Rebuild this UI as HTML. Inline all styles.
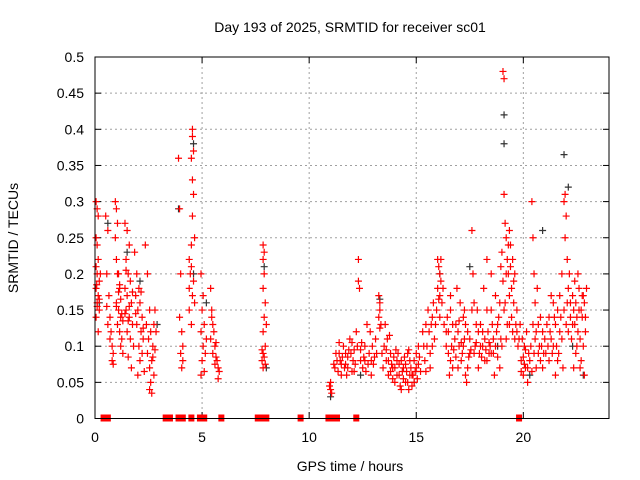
<!DOCTYPE html>
<html><head><meta charset="utf-8"><style>
body{margin:0;background:#fff;}
svg{display:block;font-family:"Liberation Sans",sans-serif;}
</style></head><body>
<svg id="chart" width="640" height="480">
<text x="350" y="32" text-anchor="middle" font-size="14">Day 193 of 2025, SRMTID for receiver sc01</text>
<text x="350" y="471" text-anchor="middle" font-size="14">GPS time / hours</text>
<text transform="translate(18,238) rotate(-90)" text-anchor="middle" font-size="14">SRMTID / TECUs</text>
<g id="grid"></g><g id="axes"></g><g id="marks"></g>
<rect x="95" y="57" width="514" height="361.5" fill="none" stroke="#000" stroke-width="1"/>
</svg>
<script>
const xTicks=[0,5,10,15,20];
const yTicks=[0,0.05,0.1,0.15,0.2,0.25,0.3,0.35,0.4,0.45,0.5];
const yTickLabels=["0","0.05","0.1","0.15","0.2","0.25","0.3","0.35","0.4","0.45","0.5"];
const zeroHours=[0.4,0.6,3.3,3.5,3.9,4.1,4.5,4.9,5.1,5.9,7.6,7.7,7.8,8.0,9.6,10.9,11.0,11.1,11.3,12.2,19.8];
const redPoints=[
[0.05,0.3],[0.1,0.29],[0.15,0.28],[0.05,0.25],[0.1,0.24],[0.15,0.22],[0.05,0.21],[0.1,0.2],[0.2,0.19],[0.05,0.18],[0.15,0.17],[0.1,0.16],[0.2,0.15],[0.05,0.14],[0.15,0.12],[0.25,0.2],[0.08,0.185],[0.2,0.165],[0.1,0.155],
[0.5,0.28],[0.6,0.26],[0.55,0.2],[0.65,0.17],[0.7,0.14],[0.75,0.12],[0.8,0.1],[0.85,0.09],[0.8,0.08],[0.85,0.075],[0.6,0.13],[0.7,0.11],[0.55,0.155],
[0.95,0.3],[1.0,0.29],[1.05,0.27],[0.95,0.25],[1.0,0.22],[1.1,0.2],[1.15,0.18],[1.0,0.16],[1.1,0.15],[1.2,0.14],[1.05,0.13],[1.15,0.12],[1.25,0.11],[1.2,0.1],[1.3,0.09],[1.0,0.155],[1.2,0.165],[1.1,0.175],[1.25,0.145],[1.3,0.135],[1.15,0.185],[1.05,0.2],
[1.4,0.27],[1.5,0.26],[1.6,0.24],[1.45,0.22],[1.55,0.2],[1.65,0.19],[1.4,0.18],[1.5,0.17],[1.7,0.16],[1.45,0.15],[1.6,0.14],[1.75,0.13],[1.5,0.12],[1.65,0.11],[1.8,0.1],[1.55,0.085],[1.7,0.07],[1.4,0.145],[1.55,0.135],[1.75,0.175],[1.6,0.155],[1.45,0.205],
[1.85,0.23],[1.95,0.2],[2.05,0.18],[1.9,0.17],[2.1,0.16],[2.0,0.15],[2.2,0.14],[1.95,0.13],[2.15,0.12],[2.25,0.11],[2.05,0.1],[2.2,0.09],[2.1,0.08],[2.3,0.065],[2.0,0.06],[2.25,0.125],[1.9,0.145],[2.15,0.175],
[2.35,0.24],[2.45,0.2],[2.55,0.15],[2.4,0.13],[2.6,0.12],[2.5,0.11],[2.7,0.1],[2.45,0.09],[2.65,0.08],[2.55,0.07],[2.75,0.06],[2.6,0.05],[2.55,0.04],[2.65,0.035],[2.7,0.085],[2.8,0.095],[2.75,0.13],[2.85,0.12],[2.8,0.15],
[3.9,0.36],[3.95,0.29],[4.0,0.2],[3.95,0.14],[4.05,0.12],[4.1,0.1],[4.0,0.09],[4.1,0.08],[4.05,0.07],
[4.55,0.4],[4.55,0.39],[4.6,0.37],[4.5,0.36],[4.55,0.33],[4.6,0.31],[4.55,0.28],[4.65,0.25],[4.5,0.24],[4.4,0.22],[4.5,0.21],[4.45,0.2],[4.6,0.19],[4.4,0.18],[4.55,0.17],[4.65,0.16],[4.4,0.15],[4.5,0.13],
[4.95,0.2],[5.05,0.17],[5.0,0.15],[5.1,0.13],[4.95,0.12],[5.05,0.1],[5.15,0.09],[5.0,0.08],[5.1,0.065],[4.95,0.06],[5.2,0.11],
[5.4,0.18],[5.45,0.15],[5.5,0.13],[5.55,0.12],[5.4,0.11],[5.6,0.1],[5.5,0.09],[5.65,0.085],[5.7,0.08],[5.6,0.075],[5.75,0.07],[5.8,0.065],[5.75,0.055],[5.45,0.14],[5.65,0.105],
[7.85,0.24],[7.9,0.23],[7.85,0.22],[7.9,0.2],[7.85,0.18],[7.95,0.16],[7.9,0.14],[8.0,0.13],[7.85,0.12],[7.95,0.1],[7.8,0.095],[7.85,0.09],[7.9,0.085],[7.8,0.08],[7.95,0.075],[7.85,0.07],
[10.95,0.045],[11.0,0.04],[11.05,0.035],[11.0,0.05],
[11.2,0.07],[11.3,0.08],[11.4,0.09],[11.5,0.06],[11.6,0.1],[11.7,0.075],[11.8,0.085],[11.9,0.11],[12.0,0.065],[12.1,0.095],[12.2,0.12],[12.3,0.22],[12.3,0.19],[12.35,0.18],[12.4,0.08],[12.5,0.07],[12.6,0.1],[12.7,0.13],[12.8,0.09],[12.9,0.06],[13.0,0.075],[13.1,0.11],[11.35,0.065],[11.55,0.085],[11.75,0.06],[11.95,0.09],[12.15,0.075],[12.45,0.105],[12.65,0.065],[12.85,0.12],[13.05,0.085],
[13.25,0.17],[13.3,0.16],[13.3,0.15],[13.25,0.14],[13.35,0.13],[13.3,0.125],
[13.5,0.1],[13.6,0.08],[13.7,0.06],[13.8,0.09],[13.9,0.07],[14.0,0.05],[14.1,0.08],[14.2,0.06],[14.3,0.04],[14.4,0.07],[14.5,0.05],[14.6,0.09],[14.7,0.06],[14.8,0.045],[14.9,0.08],[15.0,0.07],[15.1,0.1],[13.65,0.11],[13.85,0.075],[14.05,0.095],[14.25,0.045],[14.45,0.085],[14.65,0.04],[14.85,0.06],[15.05,0.055],[15.15,0.085],[13.55,0.13],[13.75,0.115],
[15.3,0.12],[15.4,0.08],[15.5,0.1],[15.55,0.15],[15.65,0.09],[15.7,0.13],[15.8,0.16],[15.85,0.11],[15.45,0.065],[15.75,0.14],
[16.0,0.22],[16.05,0.21],[16.1,0.2],[16.15,0.19],[16.1,0.17],[16.2,0.16],[16.0,0.18],
[16.4,0.12],[16.5,0.09],[16.6,0.15],[16.7,0.07],[16.8,0.11],[16.9,0.18],[17.0,0.1],[17.1,0.08],[17.2,0.14],[17.3,0.06],[17.4,0.12],[17.5,0.09],[17.6,0.26],[17.65,0.2],[17.7,0.16],[17.8,0.13],[17.9,0.07],[16.45,0.14],[16.65,0.1],[16.85,0.13],[17.05,0.16],[17.25,0.11],[17.45,0.085],[17.75,0.1],[17.85,0.15],[16.55,0.06],[17.35,0.05],
[18.0,0.1],[18.1,0.12],[18.2,0.08],[18.3,0.15],[18.4,0.09],[18.5,0.2],[18.6,0.11],[18.7,0.17],[18.8,0.13],[18.9,0.07],[18.15,0.18],[18.45,0.1],[18.65,0.06],[18.85,0.14],
[19.05,0.48],[19.1,0.47],[19.1,0.31],[19.15,0.27],[19.2,0.25],[19.25,0.22],[19.3,0.2],[19.35,0.17],[19.4,0.24],[19.45,0.14],[19.5,0.12],[19.55,0.19],[19.6,0.11],[19.7,0.15],[19.75,0.1],[19.15,0.16],[19.35,0.13],
[19.9,0.08],[20.0,0.06],[20.05,0.1],[20.1,0.07],[20.15,0.12],[20.2,0.05],[20.25,0.09],[19.95,0.11],
[20.4,0.3],[20.45,0.25],[20.5,0.2],[20.55,0.16],[20.6,0.12],[20.7,0.09],[20.8,0.14],[20.9,0.07],[21.0,0.11],[20.65,0.18],[20.85,0.1],
[21.1,0.13],[21.2,0.08],[21.3,0.17],[21.4,0.1],[21.5,0.06],[21.6,0.15],[21.7,0.12],[21.8,0.2],[21.9,0.3],[21.95,0.31],[22.0,0.28],[22.05,0.22],[22.1,0.18],[21.25,0.12],[21.45,0.14],[21.65,0.09],[21.85,0.07],
[22.2,0.16],[22.3,0.13],[22.4,0.19],[22.5,0.1],[22.6,0.15],[22.7,0.08],[22.8,0.17],[22.9,0.12],[22.35,0.07],[22.55,0.2],[22.75,0.14],[22.85,0.06]
];
const redPointsExtra=[
[11.15,0.075],[11.25,0.09],[11.45,0.08],[11.65,0.07],[11.85,0.095],[12.05,0.08],[12.25,0.1],[12.55,0.085],[12.75,0.075],[12.95,0.1],[13.15,0.09],[11.4,0.105],[11.7,0.09],[12.0,0.105],[12.4,0.095],[12.6,0.08],[12.9,0.08],[11.5,0.075],[11.8,0.07],[12.1,0.065],
[13.4,0.09],[13.45,0.07],[13.6,0.095],[13.7,0.08],[13.8,0.065],[13.95,0.085],[14.0,0.07],[14.1,0.06],[14.15,0.09],[14.2,0.075],[14.35,0.065],[14.4,0.055],[14.5,0.075],[14.55,0.065],[14.6,0.05],[14.7,0.08],[14.75,0.07],[14.8,0.06],[14.95,0.065],[15.0,0.09],[15.1,0.075],[15.2,0.065],[14.3,0.08],[14.9,0.05],[13.9,0.055],[14.65,0.095],
[15.35,0.1],[15.45,0.13],[15.6,0.12],[15.65,0.07],[15.75,0.1],[15.9,0.13],[15.95,0.15],[16.05,0.165],[16.15,0.22],[16.1,0.14],[16.25,0.18],[16.3,0.13],
[16.4,0.1],[16.5,0.12],[16.6,0.08],[16.7,0.13],[16.75,0.095],[16.85,0.085],[16.95,0.12],[17.0,0.135],[17.1,0.105],[17.15,0.09],[17.2,0.1],[17.3,0.13],[17.4,0.07],[17.5,0.11],[17.55,0.095],[17.6,0.15],[17.7,0.09],[17.8,0.105],[17.9,0.12],[17.95,0.09],[16.6,0.17],[16.95,0.07],[17.25,0.15],
[18.0,0.13],[18.05,0.085],[18.1,0.1],[18.2,0.11],[18.25,0.095],[18.3,0.08],[18.35,0.12],[18.4,0.105],[18.5,0.09],[18.55,0.13],[18.6,0.09],[18.7,0.1],[18.75,0.12],[18.8,0.085],[18.9,0.16],[18.95,0.11],[18.5,0.15],[18.3,0.22],[18.95,0.21],
[19.0,0.23],[19.05,0.19],[19.1,0.15],[19.2,0.2],[19.25,0.13],[19.3,0.24],[19.35,0.26],[19.4,0.21],[19.45,0.18],[19.5,0.22],[19.55,0.16],[19.6,0.2],[19.65,0.13],[19.7,0.12],[19.8,0.11],[19.85,0.13],[19.0,0.1],[19.2,0.11],
[19.9,0.065],[20.0,0.085],[20.05,0.075],[20.1,0.095],[20.2,0.07],[20.3,0.08],[20.35,0.1],[20.4,0.065],[20.5,0.09],[20.55,0.11],[20.6,0.07],[20.7,0.13],[20.75,0.1],[20.8,0.08],[20.9,0.12],[20.95,0.09],[20.45,0.13],
[21.05,0.09],[21.15,0.1],[21.2,0.14],[21.3,0.11],[21.35,0.09],[21.4,0.16],[21.5,0.13],[21.55,0.1],[21.6,0.08],[21.7,0.17],[21.75,0.14],[21.8,0.11],[21.9,0.15],[21.95,0.25],[22.0,0.13],[22.05,0.16],[22.1,0.12],[22.15,0.2],
[22.2,0.14],[22.25,0.11],[22.3,0.17],[22.35,0.15],[22.4,0.13],[22.45,0.16],[22.5,0.14],[22.55,0.12],[22.6,0.18],[22.65,0.11],[22.7,0.15],[22.75,0.17],[22.8,0.1],[22.85,0.16],[22.9,0.14],[22.95,0.18],[22.45,0.09],[22.65,0.07]
];
const blackPoints=[[0.2,0.16],[0.6,0.27],[1.5,0.23],[2.1,0.19],[2.9,0.13],[3.9,0.29],[4.6,0.38],[4.6,0.2],[5.2,0.16],[7.9,0.21],[8.0,0.07],[11.0,0.03],[12.4,0.06],[13.3,0.165],[14.9,0.05],[16.1,0.2],[17.5,0.21],[18.8,0.1],[19.1,0.42],[19.1,0.38],[20.3,0.06],[20.9,0.26],[21.9,0.365],[22.1,0.32],[22.8,0.06],[22.3,0.1]];
const X=h=>95+h*(514/24), Y=v=>418.5-v*(361.5/0.5);
const ns="http://www.w3.org/2000/svg";
const grid=document.getElementById('grid'),axes=document.getElementById('axes'),marks=document.getElementById('marks');
function mk(t,a,p){const e=document.createElementNS(ns,t);for(const k in a)e.setAttribute(k,a[k]);p.appendChild(e);return e;}
yTicks.forEach((v,i)=>{
 if(i>0&&i<yTicks.length-1){const g=mk('line',{x1:95,x2:609,y1:Y(v),y2:Y(v),stroke:'#a0a0a0','stroke-dasharray':'2,3'},grid);
 
 }
 mk('line',{x1:95,x2:101,y1:Y(v),y2:Y(v),stroke:'#000'},axes);
 mk('line',{x1:603,x2:609,y1:Y(v),y2:Y(v),stroke:'#000'},axes);
 const t=mk('text',{x:84,y:Y(v)+5,'text-anchor':'end','font-size':14},axes);t.textContent=yTickLabels[i];
 
 
});
xTicks.forEach(h=>{
 if(h>0){const g=mk('line',{x1:X(h),x2:X(h),y1:57,y2:418.5,stroke:'#a0a0a0','stroke-dasharray':'2,3'},grid);
 
 }
 mk('line',{x1:X(h),x2:X(h),y1:418.5,y2:412,stroke:'#000'},axes);
 mk('line',{x1:X(h),x2:X(h),y1:57,y2:63,stroke:'#000'},axes);
 const t=mk('text',{x:X(h),y:442,'text-anchor':'middle','font-size':14},axes);t.textContent=h;
 
 
});
function plus(h,v,c,name){const d=`M${X(h)-3.5},${Y(v)}h7M${X(h)},${Y(v)-3.5}v7`;
 const p=mk('path',{d:d,stroke:c,'stroke-width':1.2,fill:'none'},marks);
 
 }
blackPoints.forEach(p=>plus(p[0],p[1],'#333','black-point'));
redPoints.forEach(p=>plus(p[0],p[1],'#ff0000','red-point'));
redPointsExtra.forEach(p=>plus(p[0],p[1],'#ff0000','red-point'));
zeroHours.forEach(h=>{const r=mk('rect',{x:X(h)-3,y:Y(0)-4,width:6,height:7,fill:'#ff0000'},marks);
 
 });
</script>
</body></html>
